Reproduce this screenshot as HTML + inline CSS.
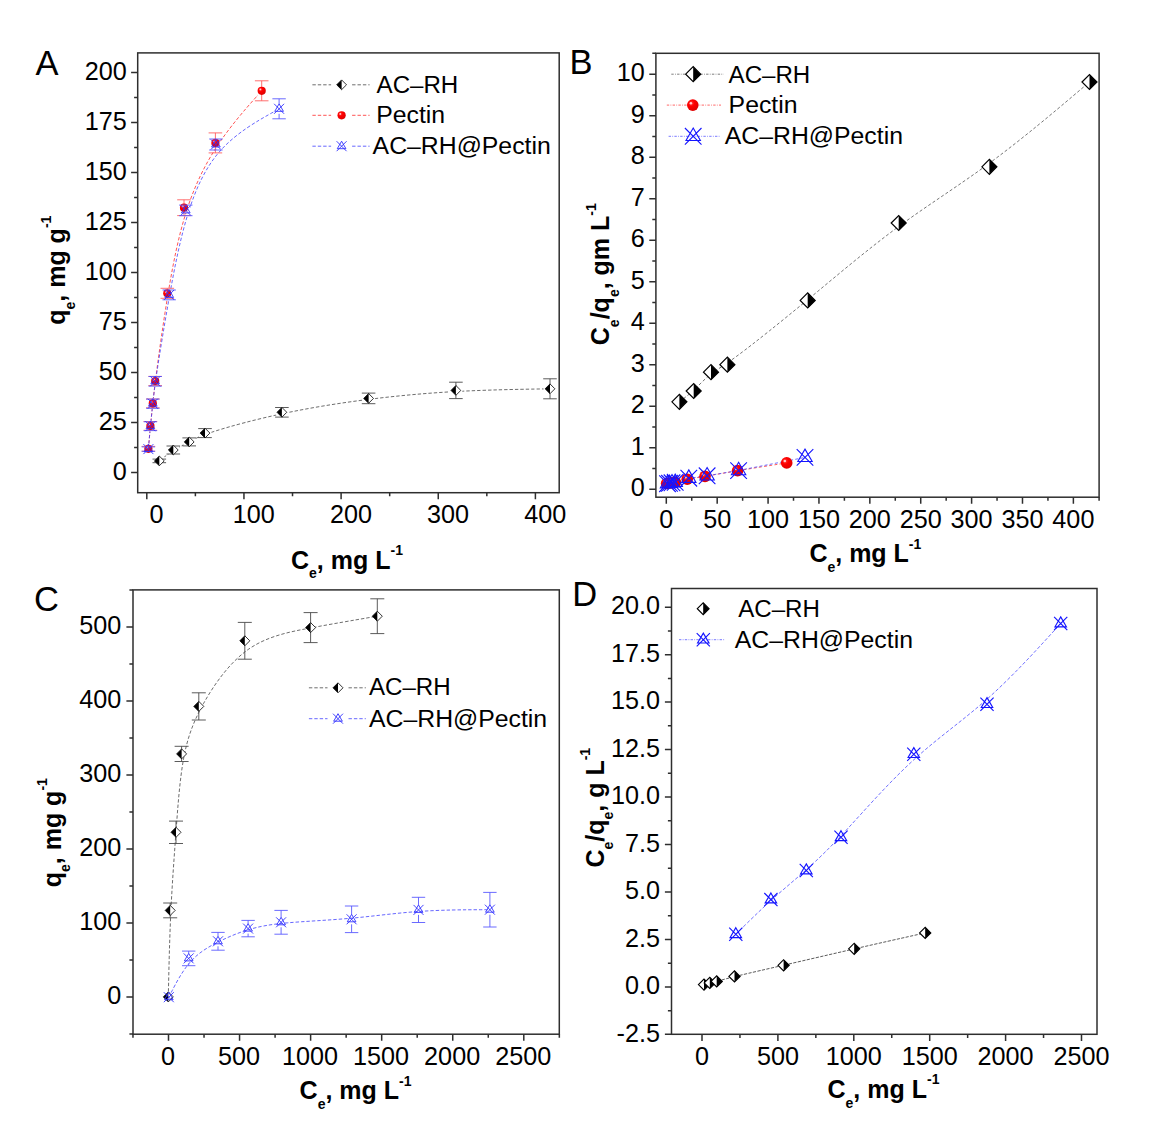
<!DOCTYPE html>
<html><head><meta charset="utf-8"><title>Adsorption isotherms</title>
<style>
html,body{margin:0;padding:0;background:#fff;}
svg{display:block;font-family:"Liberation Sans",sans-serif;}
text{fill:#000;}
</style></head>
<body>
<svg width="1152" height="1136" viewBox="0 0 1152 1136">
<defs><radialGradient id="ballg" cx="0.36" cy="0.34" r="0.75"><stop offset="0" stop-color="#ff4848"/><stop offset="0.35" stop-color="#ff0000"/><stop offset="1" stop-color="#d80000"/></radialGradient>
<mask id="m1" maskUnits="userSpaceOnUse" x="0" y="0" width="1152" height="1136"><rect width="1152" height="1136" fill="#fff"/><circle cx="159.3" cy="460.9" r="6.5" fill="#000"/><circle cx="173.3" cy="450" r="6.5" fill="#000"/><circle cx="189.2" cy="441.9" r="6.5" fill="#000"/><circle cx="205" cy="433.1" r="6.5" fill="#000"/><circle cx="281.9" cy="412.3" r="6.5" fill="#000"/><circle cx="368.6" cy="398.4" r="6.5" fill="#000"/><circle cx="455.9" cy="390.4" r="6.5" fill="#000"/><circle cx="550" cy="388.8" r="6.5" fill="#000"/></mask>
<mask id="m2" maskUnits="userSpaceOnUse" x="0" y="0" width="1152" height="1136"><rect width="1152" height="1136" fill="#fff"/><circle cx="148.4" cy="448.8" r="5.5" fill="#000"/><circle cx="150.4" cy="425.9" r="5.5" fill="#000"/><circle cx="152.8" cy="403.4" r="5.5" fill="#000"/><circle cx="155.2" cy="381" r="5.5" fill="#000"/><circle cx="167.3" cy="293.3" r="5.5" fill="#000"/><circle cx="184" cy="207.7" r="5.5" fill="#000"/><circle cx="215.4" cy="142.9" r="5.5" fill="#000"/><circle cx="261.7" cy="90.8" r="5.5" fill="#000"/></mask>
<mask id="m3" maskUnits="userSpaceOnUse" x="0" y="0" width="1152" height="1136"><rect width="1152" height="1136" fill="#fff"/><circle cx="148.4" cy="449.1" r="5.5" fill="#000"/><circle cx="150.4" cy="426.2" r="5.5" fill="#000"/><circle cx="152.8" cy="403.7" r="5.5" fill="#000"/><circle cx="155.2" cy="381.3" r="5.5" fill="#000"/><circle cx="169.2" cy="294.9" r="5.5" fill="#000"/><circle cx="185.8" cy="210.4" r="5.5" fill="#000"/><circle cx="215.9" cy="144.5" r="5.5" fill="#000"/><circle cx="279.1" cy="108.8" r="5.5" fill="#000"/></mask></defs>
<rect width="1152" height="1136" fill="#fff"/>
<rect x="137.7" y="52.9" width="421.5" height="439.8" fill="none" stroke="#2e2e2e" stroke-width="1.5"/>
<path d="M131.1 472.6H137.7M131.1 422.6H137.7M131.1 372.6H137.7M131.1 322.6H137.7M131.1 272.6H137.7M131.1 222.6H137.7M131.1 172.6H137.7M131.1 122.6H137.7M131.1 72.6H137.7M134.1 447.6H137.7M134.1 397.6H137.7M134.1 347.6H137.7M134.1 297.6H137.7M134.1 247.6H137.7M134.1 197.6H137.7M134.1 147.6H137.7M134.1 97.6H137.7" stroke="#2e2e2e" stroke-width="1.5" fill="none"/>
<path d="M146.8 492.7V499.3M243.95 492.7V499.3M341.1 492.7V499.3M438.25 492.7V499.3M535.4 492.7V499.3M195.38 492.7V496.3M292.52 492.7V496.3M389.68 492.7V496.3M486.83 492.7V496.3" stroke="#2e2e2e" stroke-width="1.5" fill="none"/>
<text x="126.7" y="479.79" font-size="25.2" text-anchor="end" font-weight="normal">0</text>
<text x="126.7" y="429.79" font-size="25.2" text-anchor="end" font-weight="normal">25</text>
<text x="126.7" y="379.79" font-size="25.2" text-anchor="end" font-weight="normal">50</text>
<text x="126.7" y="329.79" font-size="25.2" text-anchor="end" font-weight="normal">75</text>
<text x="126.7" y="279.79" font-size="25.2" text-anchor="end" font-weight="normal">100</text>
<text x="126.7" y="229.79" font-size="25.2" text-anchor="end" font-weight="normal">125</text>
<text x="126.7" y="179.79" font-size="25.2" text-anchor="end" font-weight="normal">150</text>
<text x="126.7" y="129.79" font-size="25.2" text-anchor="end" font-weight="normal">175</text>
<text x="126.7" y="79.79" font-size="25.2" text-anchor="end" font-weight="normal">200</text>
<text x="156.6" y="523.3" font-size="25.2" text-anchor="middle" font-weight="normal">0</text>
<text x="253.75" y="523.3" font-size="25.2" text-anchor="middle" font-weight="normal">100</text>
<text x="350.9" y="523.3" font-size="25.2" text-anchor="middle" font-weight="normal">200</text>
<text x="448.05" y="523.3" font-size="25.2" text-anchor="middle" font-weight="normal">300</text>
<text x="545.2" y="523.3" font-size="25.2" text-anchor="middle" font-weight="normal">400</text>
<text x="35.5" y="75.2" font-size="34.5" text-anchor="start" font-weight="normal">A</text>
<text x="291" y="568.6" font-weight="bold" xml:space="preserve"><tspan dy="0" font-size="25">C</tspan><tspan dy="9.6" font-size="14">e</tspan><tspan dy="-9.6" font-size="25">, mg L</tspan><tspan dy="-13.6" font-size="14">-1</tspan></text>
<text transform="translate(64.9 324.8) rotate(-90)" font-weight="bold" xml:space="preserve"><tspan dy="0" font-size="25">q</tspan><tspan dy="9.6" font-size="14">e</tspan><tspan dy="-9.6" font-size="25">, mg g</tspan><tspan dy="-13.6" font-size="14">-1</tspan></text>
<path d="M159.3 460.9C159.3 460.9 159.3 460.9 161.63 459.08C163.97 457.27 168.63 453.63 173.62 450.47C178.6 447.3 183.9 444.6 189.18 441.78C194.47 438.97 199.73 436.03 215.18 431.1C230.63 426.17 256.27 419.23 283.53 413.45C310.8 407.67 339.7 403.03 368.7 399.38C397.7 395.73 426.8 393.07 457.03 391.47C487.27 389.87 518.63 389.33 534.32 389.07C550 388.8 550 388.8 550 388.8" fill="none" stroke="#484848" stroke-width="0.8" stroke-dasharray="3.4 2" mask="url(#m1)"/>
<path d="M148.4 448.8C148.4 448.8 148.4 448.8 148.73 444.98C149.07 441.17 149.73 433.53 150.47 425.97C151.2 418.4 152 410.9 152.8 403.42C153.6 395.93 154.4 388.47 156.82 370.12C159.23 351.77 163.27 322.53 168.07 293.65C172.87 264.77 178.43 236.23 186.45 211.17C194.47 186.1 204.93 164.5 217.88 145.02C230.83 125.53 246.27 108.17 253.98 99.48C261.7 90.8 261.7 90.8 261.7 90.8" fill="none" stroke="#ff2a2a" stroke-width="0.8" stroke-dasharray="3.4 2" mask="url(#m2)"/>
<path d="M148.4 449.1C148.4 449.1 148.4 449.1 148.73 445.28C149.07 441.47 149.73 433.83 150.47 426.27C151.2 418.7 152 411.2 152.8 403.72C153.6 396.23 154.4 388.77 157.13 370.63C159.87 352.5 164.53 323.7 169.63 295.22C174.73 266.73 180.27 238.57 188.05 213.5C195.83 188.43 205.87 166.47 221.42 149.53C236.97 132.6 258.03 120.7 268.57 114.75C279.1 108.8 279.1 108.8 279.1 108.8" fill="none" stroke="#4040ff" stroke-width="0.8" stroke-dasharray="3.4 2" mask="url(#m3)"/>
<path d="M159.3 459.1L159.3 462.7M152.5 459.1L166.1 459.1M152.5 462.7L166.1 462.7" fill="none" stroke="#484848" stroke-width="0.9"/>
<path d="M173.3 446L173.3 454M166.5 446L180.1 446M166.5 454L180.1 454" fill="none" stroke="#484848" stroke-width="0.9"/>
<path d="M189.2 437.9L189.2 445.9M182.4 437.9L196 437.9M182.4 445.9L196 445.9" fill="none" stroke="#484848" stroke-width="0.9"/>
<path d="M205 428.6L205 437.6M198.2 428.6L211.8 428.6M198.2 437.6L211.8 437.6" fill="none" stroke="#484848" stroke-width="0.9"/>
<path d="M281.9 407.5L281.9 417.1M275.1 407.5L288.7 407.5M275.1 417.1L288.7 417.1" fill="none" stroke="#484848" stroke-width="0.9"/>
<path d="M368.6 393.1L368.6 403.7M361.8 393.1L375.4 393.1M361.8 403.7L375.4 403.7" fill="none" stroke="#484848" stroke-width="0.9"/>
<path d="M455.9 382.2L455.9 398.6M449.1 382.2L462.7 382.2M449.1 398.6L462.7 398.6" fill="none" stroke="#484848" stroke-width="0.9"/>
<path d="M550 378.8L550 398.8M543.2 378.8L556.8 378.8M543.2 398.8L556.8 398.8" fill="none" stroke="#484848" stroke-width="0.9"/>
<path d="M154.4 460.9L159.3 456L164.2 460.9L159.3 465.8Z" fill="#fff" stroke="#000" stroke-width="0.8" stroke-linejoin="miter"/><path d="M154.4 460.9L159.3 456L159.3 465.8Z" fill="#000"/>
<path d="M168.4 450L173.3 445.1L178.2 450L173.3 454.9Z" fill="#fff" stroke="#000" stroke-width="0.8" stroke-linejoin="miter"/><path d="M168.4 450L173.3 445.1L173.3 454.9Z" fill="#000"/>
<path d="M184.3 441.9L189.2 437L194.1 441.9L189.2 446.8Z" fill="#fff" stroke="#000" stroke-width="0.8" stroke-linejoin="miter"/><path d="M184.3 441.9L189.2 437L189.2 446.8Z" fill="#000"/>
<path d="M200.1 433.1L205 428.2L209.9 433.1L205 438Z" fill="#fff" stroke="#000" stroke-width="0.8" stroke-linejoin="miter"/><path d="M200.1 433.1L205 428.2L205 438Z" fill="#000"/>
<path d="M277 412.3L281.9 407.4L286.8 412.3L281.9 417.2Z" fill="#fff" stroke="#000" stroke-width="0.8" stroke-linejoin="miter"/><path d="M277 412.3L281.9 407.4L281.9 417.2Z" fill="#000"/>
<path d="M363.7 398.4L368.6 393.5L373.5 398.4L368.6 403.3Z" fill="#fff" stroke="#000" stroke-width="0.8" stroke-linejoin="miter"/><path d="M363.7 398.4L368.6 393.5L368.6 403.3Z" fill="#000"/>
<path d="M451 390.4L455.9 385.5L460.8 390.4L455.9 395.3Z" fill="#fff" stroke="#000" stroke-width="0.8" stroke-linejoin="miter"/><path d="M451 390.4L455.9 385.5L455.9 395.3Z" fill="#000"/>
<path d="M545.1 388.8L550 383.9L554.9 388.8L550 393.7Z" fill="#fff" stroke="#000" stroke-width="0.8" stroke-linejoin="miter"/><path d="M545.1 388.8L550 383.9L550 393.7Z" fill="#000"/>
<path d="M148.4 446.4L148.4 451.2M141.6 446.4L155.2 446.4M141.6 451.2L155.2 451.2" fill="none" stroke="#ff6060" stroke-width="0.9"/>
<path d="M150.4 421.5L150.4 430.3M143.6 421.5L157.2 421.5M143.6 430.3L157.2 430.3" fill="none" stroke="#ff6060" stroke-width="0.9"/>
<path d="M152.8 399L152.8 407.8M146 399L159.6 399M146 407.8L159.6 407.8" fill="none" stroke="#ff6060" stroke-width="0.9"/>
<path d="M155.2 376.4L155.2 385.6M148.4 376.4L162 376.4M148.4 385.6L162 385.6" fill="none" stroke="#ff6060" stroke-width="0.9"/>
<path d="M167.3 288.3L167.3 298.3M160.5 288.3L174.1 288.3M160.5 298.3L174.1 298.3" fill="none" stroke="#ff6060" stroke-width="0.9"/>
<path d="M184 199.8L184 215.6M177.2 199.8L190.8 199.8M177.2 215.6L190.8 215.6" fill="none" stroke="#ff6060" stroke-width="0.9"/>
<path d="M215.4 132.9L215.4 152.9M208.6 132.9L222.2 132.9M208.6 152.9L222.2 152.9" fill="none" stroke="#ff6060" stroke-width="0.9"/>
<path d="M261.7 80.8L261.7 100.8M254.9 80.8L268.5 80.8M254.9 100.8L268.5 100.8" fill="none" stroke="#ff6060" stroke-width="0.9"/>
<circle cx="148.4" cy="448.8" r="4.1" fill="url(#ballg)"/><circle cx="147.05" cy="447.45" r="0.9" fill="#fff" fill-opacity="0.75"/>
<circle cx="150.4" cy="425.9" r="4.1" fill="url(#ballg)"/><circle cx="149.05" cy="424.55" r="0.9" fill="#fff" fill-opacity="0.75"/>
<circle cx="152.8" cy="403.4" r="4.1" fill="url(#ballg)"/><circle cx="151.45" cy="402.05" r="0.9" fill="#fff" fill-opacity="0.75"/>
<circle cx="155.2" cy="381" r="4.1" fill="url(#ballg)"/><circle cx="153.85" cy="379.65" r="0.9" fill="#fff" fill-opacity="0.75"/>
<circle cx="167.3" cy="293.3" r="4.1" fill="url(#ballg)"/><circle cx="165.95" cy="291.95" r="0.9" fill="#fff" fill-opacity="0.75"/>
<circle cx="184" cy="207.7" r="4.1" fill="url(#ballg)"/><circle cx="182.65" cy="206.35" r="0.9" fill="#fff" fill-opacity="0.75"/>
<circle cx="215.4" cy="142.9" r="4.1" fill="url(#ballg)"/><circle cx="214.05" cy="141.55" r="0.9" fill="#fff" fill-opacity="0.75"/>
<circle cx="261.7" cy="90.8" r="4.1" fill="url(#ballg)"/><circle cx="260.35" cy="89.45" r="0.9" fill="#fff" fill-opacity="0.75"/>
<path d="M141.7 446.9L155.1 446.9M141.7 451.3L155.1 451.3" fill="none" stroke="#5a5aff" stroke-width="0.9"/>
<path d="M143.7 421.8L157.1 421.8M143.7 430.6L157.1 430.6" fill="none" stroke="#5a5aff" stroke-width="0.9"/>
<path d="M146.1 399.1L159.5 399.1M146.1 408.3L159.5 408.3" fill="none" stroke="#5a5aff" stroke-width="0.9"/>
<path d="M148.5 376.5L161.9 376.5M148.5 386.1L161.9 386.1" fill="none" stroke="#5a5aff" stroke-width="0.9"/>
<path d="M162.5 290L175.9 290M162.5 299.8L175.9 299.8" fill="none" stroke="#5a5aff" stroke-width="0.9"/>
<path d="M185.8 205.1L185.8 205.4M185.8 215.4L185.8 215.7M179.1 205.1L192.5 205.1M179.1 215.7L192.5 215.7" fill="none" stroke="#5a5aff" stroke-width="0.9"/>
<path d="M215.9 139L215.9 139.5M215.9 149.5L215.9 150M209.2 139L222.6 139M209.2 150L222.6 150" fill="none" stroke="#5a5aff" stroke-width="0.9"/>
<path d="M279.1 98.8L279.1 103.8M279.1 113.8L279.1 118.8M272.4 98.8L285.8 98.8M272.4 118.8L285.8 118.8" fill="none" stroke="#5a5aff" stroke-width="0.9"/>
<path d="M143.4 444.1L153.4 454.1M153.4 444.1L143.4 454.1M148.4 444.1L152.73 451.6L144.07 451.6Z" fill="none" stroke="#3030ff" stroke-width="0.9" stroke-linejoin="miter"/>
<path d="M145.4 421.2L155.4 431.2M155.4 421.2L145.4 431.2M150.4 421.2L154.73 428.7L146.07 428.7Z" fill="none" stroke="#3030ff" stroke-width="0.9" stroke-linejoin="miter"/>
<path d="M147.8 398.7L157.8 408.7M157.8 398.7L147.8 408.7M152.8 398.7L157.13 406.2L148.47 406.2Z" fill="none" stroke="#3030ff" stroke-width="0.9" stroke-linejoin="miter"/>
<path d="M150.2 376.3L160.2 386.3M160.2 376.3L150.2 386.3M155.2 376.3L159.53 383.8L150.87 383.8Z" fill="none" stroke="#3030ff" stroke-width="0.9" stroke-linejoin="miter"/>
<path d="M164.2 289.9L174.2 299.9M174.2 289.9L164.2 299.9M169.2 289.9L173.53 297.4L164.87 297.4Z" fill="none" stroke="#3030ff" stroke-width="0.9" stroke-linejoin="miter"/>
<path d="M180.8 205.4L190.8 215.4M190.8 205.4L180.8 215.4M185.8 205.4L190.13 212.9L181.47 212.9Z" fill="none" stroke="#3030ff" stroke-width="0.9" stroke-linejoin="miter"/>
<path d="M210.9 139.5L220.9 149.5M220.9 139.5L210.9 149.5M215.9 139.5L220.23 147L211.57 147Z" fill="none" stroke="#3030ff" stroke-width="0.9" stroke-linejoin="miter"/>
<path d="M274.1 103.8L284.1 113.8M284.1 103.8L274.1 113.8M279.1 103.8L283.43 111.3L274.77 111.3Z" fill="none" stroke="#3030ff" stroke-width="0.9" stroke-linejoin="miter"/>
<path d="M312.4 84.8H331.1M352.1 84.8H369.6" stroke="#484848" stroke-width="0.8" stroke-dasharray="3.4 2" fill="none"/>
<path d="M312.4 115.3H331.1M352.1 115.3H369.6" stroke="#ff2a2a" stroke-width="0.8" stroke-dasharray="3.4 2" fill="none"/>
<path d="M312.4 146.2H331.1M352.1 146.2H369.6" stroke="#4040ff" stroke-width="0.8" stroke-dasharray="3.4 2" fill="none"/>
<path d="M336.7 84.8L341.6 79.9L346.5 84.8L341.6 89.7Z" fill="#fff" stroke="#000" stroke-width="0.8" stroke-linejoin="miter"/><path d="M336.7 84.8L341.6 79.9L341.6 89.7Z" fill="#000"/>
<circle cx="341.6" cy="115.3" r="4.1" fill="url(#ballg)"/><circle cx="340.25" cy="113.95" r="0.9" fill="#fff" fill-opacity="0.75"/>
<path d="M336.6 141.2L346.6 151.2M346.6 141.2L336.6 151.2M341.6 141.2L345.93 148.7L337.27 148.7Z" fill="none" stroke="#3030ff" stroke-width="0.9" stroke-linejoin="miter"/>
<text x="376.6" y="93.4" font-size="24.1" text-anchor="start" font-weight="normal">AC–RH</text>
<text x="376.2" y="123.2" font-size="24.8" text-anchor="start" font-weight="normal">Pectin</text>
<text x="372.6" y="154.1" font-size="24.8" text-anchor="start" font-weight="normal">AC–RH@Pectin</text>
<rect x="655.9" y="53.3" width="443.2" height="443.9" fill="none" stroke="#2e2e2e" stroke-width="1.5"/>
<path d="M649.3 489.3H655.9M649.3 447.8H655.9M649.3 406.3H655.9M649.3 364.8H655.9M649.3 323.3H655.9M649.3 281.8H655.9M649.3 240.3H655.9M649.3 198.8H655.9M649.3 157.3H655.9M649.3 115.8H655.9M649.3 74.3H655.9M652.3 468.55H655.9M652.3 427.05H655.9M652.3 385.55H655.9M652.3 344.05H655.9M652.3 302.55H655.9M652.3 261.05H655.9M652.3 219.55H655.9M652.3 178.05H655.9M652.3 136.55H655.9M652.3 95.05H655.9M652.3 53.3H655.9" stroke="#2e2e2e" stroke-width="1.5" fill="none"/>
<path d="M666.3 497.2V503.8M717.18 497.2V503.8M768.07 497.2V503.8M818.95 497.2V503.8M869.84 497.2V503.8M920.72 497.2V503.8M971.61 497.2V503.8M1022.49 497.2V503.8M1073.38 497.2V503.8M691.74 497.2V500.8M742.63 497.2V500.8M793.51 497.2V500.8M844.4 497.2V500.8M895.28 497.2V500.8M946.17 497.2V500.8M997.05 497.2V500.8M1047.94 497.2V500.8M1099.1 497.2V500.8" stroke="#2e2e2e" stroke-width="1.5" fill="none"/>
<text x="644.8" y="496.49" font-size="25.2" text-anchor="end" font-weight="normal">0</text>
<text x="644.8" y="454.99" font-size="25.2" text-anchor="end" font-weight="normal">1</text>
<text x="644.8" y="413.49" font-size="25.2" text-anchor="end" font-weight="normal">2</text>
<text x="644.8" y="371.99" font-size="25.2" text-anchor="end" font-weight="normal">3</text>
<text x="644.8" y="330.49" font-size="25.2" text-anchor="end" font-weight="normal">4</text>
<text x="644.8" y="288.99" font-size="25.2" text-anchor="end" font-weight="normal">5</text>
<text x="644.8" y="247.49" font-size="25.2" text-anchor="end" font-weight="normal">6</text>
<text x="644.8" y="205.99" font-size="25.2" text-anchor="end" font-weight="normal">7</text>
<text x="644.8" y="164.49" font-size="25.2" text-anchor="end" font-weight="normal">8</text>
<text x="644.8" y="122.99" font-size="25.2" text-anchor="end" font-weight="normal">9</text>
<text x="644.8" y="81.49" font-size="25.2" text-anchor="end" font-weight="normal">10</text>
<text x="666.3" y="527.6" font-size="25.2" text-anchor="middle" font-weight="normal">0</text>
<text x="717.18" y="527.6" font-size="25.2" text-anchor="middle" font-weight="normal">50</text>
<text x="768.07" y="527.6" font-size="25.2" text-anchor="middle" font-weight="normal">100</text>
<text x="818.95" y="527.6" font-size="25.2" text-anchor="middle" font-weight="normal">150</text>
<text x="869.84" y="527.6" font-size="25.2" text-anchor="middle" font-weight="normal">200</text>
<text x="920.72" y="527.6" font-size="25.2" text-anchor="middle" font-weight="normal">250</text>
<text x="971.61" y="527.6" font-size="25.2" text-anchor="middle" font-weight="normal">300</text>
<text x="1022.49" y="527.6" font-size="25.2" text-anchor="middle" font-weight="normal">350</text>
<text x="1073.38" y="527.6" font-size="25.2" text-anchor="middle" font-weight="normal">400</text>
<text x="569.4" y="73.6" font-size="34.5" text-anchor="start" font-weight="normal">B</text>
<text x="809.4" y="562.2" font-weight="bold" xml:space="preserve"><tspan dy="0" font-size="25">C</tspan><tspan dy="9.6" font-size="14">e</tspan><tspan dy="-9.6" font-size="25">, mg L</tspan><tspan dy="-13.6" font-size="14">-1</tspan></text>
<text transform="translate(609.3 345.2) rotate(-90)" font-weight="bold" xml:space="preserve"><tspan dy="0" font-size="25">C</tspan><tspan dy="9.6" font-size="14">e</tspan><tspan dy="-9.6" font-size="25">/q</tspan><tspan dy="9.6" font-size="14">e</tspan><tspan dy="-9.6" font-size="25">, gm L</tspan><tspan dy="-13.6" font-size="14">-1</tspan></text>
<path d="M679.4 401.8C679.4 401.8 679.4 401.8 681.78 400C684.17 398.2 688.93 394.6 694.2 389.67C699.47 384.73 705.23 378.47 710.85 374.08C716.47 369.7 721.93 367.2 738.05 355.23C754.17 343.27 780.93 321.83 809.48 298.22C838.03 274.6 868.37 248.8 898.65 226.53C928.93 204.27 959.17 185.53 990.97 162.03C1022.77 138.53 1056.13 110.27 1072.82 96.13C1089.5 82 1089.5 82 1089.5 82" fill="none" stroke="#484848" stroke-width="0.75" stroke-dasharray="3 2.2"/>
<path d="M666.6 483.5C666.6 483.5 666.6 483.5 667 483.45C667.4 483.4 668.2 483.3 669.1 483.18C670 483.07 671 482.93 672.07 482.78C673.13 482.63 674.27 482.47 676.8 481.87C679.33 481.27 683.27 480.23 688.2 479.25C693.13 478.27 699.07 477.33 707.47 475.9C715.87 474.47 726.73 472.53 740.35 470.28C753.97 468.03 770.33 465.47 778.52 464.18C786.7 462.9 786.7 462.9 786.7 462.9" fill="none" stroke="#ff2a2a" stroke-width="0.75" stroke-dasharray="3 2.2"/>
<path d="M667.5 483.7C667.5 483.7 667.5 483.7 667.83 483.63C668.17 483.57 668.83 483.43 669.58 483.28C670.33 483.13 671.17 482.97 672.12 482.8C673.07 482.63 674.13 482.47 676.93 481.7C679.73 480.93 684.27 479.57 689.58 478.48C694.9 477.4 701 476.6 709.3 475.33C717.6 474.07 728.1 472.33 744.42 469.27C760.73 466.2 782.87 461.8 793.93 459.6C805 457.4 805 457.4 805 457.4" fill="none" stroke="#4040ff" stroke-width="0.75" stroke-dasharray="3 2.2"/>
<path d="M671.9 401.8L679.4 394.3L686.9 401.8L679.4 409.3Z" fill="#fff" stroke="#000" stroke-width="1.2" stroke-linejoin="miter"/><path d="M686.9 401.8L679.4 394.3L679.4 409.3Z" fill="#000"/>
<path d="M686.2 391L693.7 383.5L701.2 391L693.7 398.5Z" fill="#fff" stroke="#000" stroke-width="1.2" stroke-linejoin="miter"/><path d="M701.2 391L693.7 383.5L693.7 398.5Z" fill="#000"/>
<path d="M703.5 372.2L711 364.7L718.5 372.2L711 379.7Z" fill="#fff" stroke="#000" stroke-width="1.2" stroke-linejoin="miter"/><path d="M718.5 372.2L711 364.7L711 379.7Z" fill="#000"/>
<path d="M719.9 364.7L727.4 357.2L734.9 364.7L727.4 372.2Z" fill="#fff" stroke="#000" stroke-width="1.2" stroke-linejoin="miter"/><path d="M734.9 364.7L727.4 357.2L727.4 372.2Z" fill="#000"/>
<path d="M800.2 300.4L807.7 292.9L815.2 300.4L807.7 307.9Z" fill="#fff" stroke="#000" stroke-width="1.2" stroke-linejoin="miter"/><path d="M815.2 300.4L807.7 292.9L807.7 307.9Z" fill="#000"/>
<path d="M891.2 223L898.7 215.5L906.2 223L898.7 230.5Z" fill="#fff" stroke="#000" stroke-width="1.2" stroke-linejoin="miter"/><path d="M906.2 223L898.7 215.5L898.7 230.5Z" fill="#000"/>
<path d="M981.9 166.8L989.4 159.3L996.9 166.8L989.4 174.3Z" fill="#fff" stroke="#000" stroke-width="1.2" stroke-linejoin="miter"/><path d="M996.9 166.8L989.4 159.3L989.4 174.3Z" fill="#000"/>
<path d="M1082 82L1089.5 74.5L1097 82L1089.5 89.5Z" fill="#fff" stroke="#000" stroke-width="1.2" stroke-linejoin="miter"/><path d="M1097 82L1089.5 74.5L1089.5 89.5Z" fill="#000"/>
<circle cx="666.6" cy="483.5" r="5.8" fill="url(#ballg)"/><circle cx="664.69" cy="481.59" r="1.28" fill="#fff" fill-opacity="0.75"/>
<circle cx="669" cy="483.2" r="5.8" fill="url(#ballg)"/><circle cx="667.09" cy="481.29" r="1.28" fill="#fff" fill-opacity="0.75"/>
<circle cx="672" cy="482.8" r="5.8" fill="url(#ballg)"/><circle cx="670.09" cy="480.89" r="1.28" fill="#fff" fill-opacity="0.75"/>
<circle cx="675.4" cy="482.3" r="5.8" fill="url(#ballg)"/><circle cx="673.49" cy="480.39" r="1.28" fill="#fff" fill-opacity="0.75"/>
<circle cx="687.2" cy="479.2" r="5.8" fill="url(#ballg)"/><circle cx="685.29" cy="477.29" r="1.28" fill="#fff" fill-opacity="0.75"/>
<circle cx="705" cy="476.4" r="5.8" fill="url(#ballg)"/><circle cx="703.09" cy="474.49" r="1.28" fill="#fff" fill-opacity="0.75"/>
<circle cx="737.6" cy="470.6" r="5.8" fill="url(#ballg)"/><circle cx="735.69" cy="468.69" r="1.28" fill="#fff" fill-opacity="0.75"/>
<circle cx="786.7" cy="462.9" r="5.8" fill="url(#ballg)"/><circle cx="784.79" cy="460.99" r="1.28" fill="#fff" fill-opacity="0.75"/>
<path d="M659.2 475.4L675.8 492M675.8 475.4L659.2 492M667.5 475.4L674.69 487.85L660.31 487.85Z" fill="none" stroke="#1414ff" stroke-width="1.1" stroke-linejoin="miter"/>
<path d="M661.2 475L677.8 491.6M677.8 475L661.2 491.6M669.5 475L676.69 487.45L662.31 487.45Z" fill="none" stroke="#1414ff" stroke-width="1.1" stroke-linejoin="miter"/>
<path d="M663.7 474.5L680.3 491.1M680.3 474.5L663.7 491.1M672 474.5L679.19 486.95L664.81 486.95Z" fill="none" stroke="#1414ff" stroke-width="1.1" stroke-linejoin="miter"/>
<path d="M666.9 474L683.5 490.6M683.5 474L666.9 490.6M675.2 474L682.39 486.45L668.01 486.45Z" fill="none" stroke="#1414ff" stroke-width="1.1" stroke-linejoin="miter"/>
<path d="M680.5 469.9L697.1 486.5M697.1 469.9L680.5 486.5M688.8 469.9L695.99 482.35L681.61 482.35Z" fill="none" stroke="#1414ff" stroke-width="1.1" stroke-linejoin="miter"/>
<path d="M698.8 467.5L715.4 484.1M715.4 467.5L698.8 484.1M707.1 467.5L714.29 479.95L699.91 479.95Z" fill="none" stroke="#1414ff" stroke-width="1.1" stroke-linejoin="miter"/>
<path d="M730.3 462.3L746.9 478.9M746.9 462.3L730.3 478.9M738.6 462.3L745.79 474.75L731.41 474.75Z" fill="none" stroke="#1414ff" stroke-width="1.1" stroke-linejoin="miter"/>
<path d="M796.7 449.1L813.3 465.7M813.3 449.1L796.7 465.7M805 449.1L812.19 461.55L797.81 461.55Z" fill="none" stroke="#1414ff" stroke-width="1.1" stroke-linejoin="miter"/>
<path d="M671.3 74.2H723.7" stroke="#484848" stroke-width="0.7" stroke-dasharray="2.4 1.3 0.8 1.3" fill="none"/>
<path d="M666.8 105.1H721" stroke="#ff2a2a" stroke-width="0.7" stroke-dasharray="2.4 1.3 0.8 1.3" fill="none"/>
<path d="M668.6 136.3H719.8" stroke="#4040ff" stroke-width="0.7" stroke-dasharray="2.4 1.3 0.8 1.3" fill="none"/>
<path d="M685.7 74.2L693.2 66.7L700.7 74.2L693.2 81.7Z" fill="#fff" stroke="#000" stroke-width="1.2" stroke-linejoin="miter"/><path d="M700.7 74.2L693.2 66.7L693.2 81.7Z" fill="#000"/>
<circle cx="692.8" cy="105.1" r="5.8" fill="url(#ballg)"/><circle cx="690.89" cy="103.19" r="1.28" fill="#fff" fill-opacity="0.75"/>
<path d="M684.9 128L701.5 144.6M701.5 128L684.9 144.6M693.2 128L700.39 140.45L686.01 140.45Z" fill="none" stroke="#1414ff" stroke-width="1.1" stroke-linejoin="miter"/>
<text x="728.6" y="83.2" font-size="24.1" text-anchor="start" font-weight="normal">AC–RH</text>
<text x="728.6" y="113.2" font-size="24.8" text-anchor="start" font-weight="normal">Pectin</text>
<text x="724.8" y="144.4" font-size="24.8" text-anchor="start" font-weight="normal">AC–RH@Pectin</text>
<rect x="133" y="589.9" width="426.3" height="444.3" fill="none" stroke="#2e2e2e" stroke-width="1.5"/>
<path d="M126.4 997.1H133M126.4 923.06H133M126.4 849.02H133M126.4 774.98H133M126.4 700.94H133M126.4 626.9H133M129.4 1034.12H133M129.4 960.08H133M129.4 886.04H133M129.4 812H133M129.4 737.96H133M129.4 663.92H133M129.4 589.88H133" stroke="#2e2e2e" stroke-width="1.5" fill="none"/>
<path d="M168.5 1034.2V1040.8M239.56 1034.2V1040.8M310.62 1034.2V1040.8M381.68 1034.2V1040.8M452.74 1034.2V1040.8M523.8 1034.2V1040.8M132.97 1034.2V1037.8M204.03 1034.2V1037.8M275.09 1034.2V1037.8M346.15 1034.2V1037.8M417.21 1034.2V1037.8M488.27 1034.2V1037.8M559.33 1034.2V1037.8" stroke="#2e2e2e" stroke-width="1.5" fill="none"/>
<text x="121.3" y="1004.29" font-size="25.2" text-anchor="end" font-weight="normal">0</text>
<text x="121.3" y="930.25" font-size="25.2" text-anchor="end" font-weight="normal">100</text>
<text x="121.3" y="856.21" font-size="25.2" text-anchor="end" font-weight="normal">200</text>
<text x="121.3" y="782.17" font-size="25.2" text-anchor="end" font-weight="normal">300</text>
<text x="121.3" y="708.13" font-size="25.2" text-anchor="end" font-weight="normal">400</text>
<text x="121.3" y="634.09" font-size="25.2" text-anchor="end" font-weight="normal">500</text>
<text x="167.9" y="1064.6" font-size="25.2" text-anchor="middle" font-weight="normal">0</text>
<text x="238.96" y="1064.6" font-size="25.2" text-anchor="middle" font-weight="normal">500</text>
<text x="310.02" y="1064.6" font-size="25.2" text-anchor="middle" font-weight="normal">1000</text>
<text x="381.08" y="1064.6" font-size="25.2" text-anchor="middle" font-weight="normal">1500</text>
<text x="452.14" y="1064.6" font-size="25.2" text-anchor="middle" font-weight="normal">2000</text>
<text x="523.2" y="1064.6" font-size="25.2" text-anchor="middle" font-weight="normal">2500</text>
<text x="34" y="611" font-size="34.5" text-anchor="start" font-weight="normal">C</text>
<text x="299.6" y="1099.4" font-weight="bold" xml:space="preserve"><tspan dy="0" font-size="25">C</tspan><tspan dy="9.6" font-size="14">e</tspan><tspan dy="-9.6" font-size="25">, mg L</tspan><tspan dy="-13.6" font-size="14">-1</tspan></text>
<text transform="translate(60.8 887.3) rotate(-90)" font-weight="bold" xml:space="preserve"><tspan dy="0" font-size="25">q</tspan><tspan dy="9.6" font-size="14">e</tspan><tspan dy="-9.6" font-size="25">, mg g</tspan><tspan dy="-13.6" font-size="14">-1</tspan></text>
<path d="M168.3 996.9C168.3 996.9 168.3 996.9 168.62 982.48C168.93 968.07 169.57 939.23 170.85 911.8C172.13 884.37 174.07 858.33 175.97 832.25C177.87 806.17 179.73 780.03 183.53 759.05C187.33 738.07 193.07 722.23 203.6 703.38C214.13 684.53 229.47 662.67 248.1 649.53C266.73 636.4 288.67 632 310.75 627.9C332.83 623.8 355.07 620 366.18 618.1C377.3 616.2 377.3 616.2 377.3 616.2" fill="none" stroke="#484848" stroke-width="0.8" stroke-dasharray="3.4 2"/>
<path d="M168.8 997.2C168.8 997.2 168.8 997.2 172.12 990.73C175.43 984.27 182.07 971.33 190.27 962.02C198.47 952.7 208.23 947 218.13 942.03C228.03 937.07 238.07 932.83 248.58 929.67C259.1 926.5 270.1 924.4 287.35 922.85C304.6 921.3 328.1 920.3 351 918.23C373.9 916.17 396.2 913.03 419.25 911.43C442.3 909.83 466.1 909.77 478 909.73C489.9 909.7 489.9 909.7 489.9 909.7" fill="none" stroke="#4040ff" stroke-width="0.8" stroke-dasharray="3.4 2"/>

<path d="M170.2 903L170.2 917.8M163.2 903L177.2 903M163.2 917.8L177.2 917.8" fill="none" stroke="#484848" stroke-width="0.9"/>
<path d="M176 821.1L176 843.5M169 821.1L183 821.1M169 843.5L183 843.5" fill="none" stroke="#484848" stroke-width="0.9"/>
<path d="M181.6 746.3L181.6 761.5M174.6 746.3L188.6 746.3M174.6 761.5L188.6 761.5" fill="none" stroke="#484848" stroke-width="0.9"/>
<path d="M198.8 692.8L198.8 720M191.8 692.8L205.8 692.8M191.8 720L205.8 720" fill="none" stroke="#484848" stroke-width="0.9"/>
<path d="M244.8 622.4L244.8 659.2M237.8 622.4L251.8 622.4M237.8 659.2L251.8 659.2" fill="none" stroke="#484848" stroke-width="0.9"/>
<path d="M310.6 612.6L310.6 642.6M303.6 612.6L317.6 612.6M303.6 642.6L317.6 642.6" fill="none" stroke="#484848" stroke-width="0.9"/>
<path d="M377.3 598.8L377.3 633.6M370.3 598.8L384.3 598.8M370.3 633.6L384.3 633.6" fill="none" stroke="#484848" stroke-width="0.9"/>

<path d="M188.7 951.1L188.7 953.4M188.7 963.4L188.7 965.7M182 951.1L195.4 951.1M182 965.7L195.4 965.7" fill="none" stroke="#5a5aff" stroke-width="0.9"/>
<path d="M218 932.4L218 936.3M218 946.3L218 950.2M211.3 932.4L224.7 932.4M211.3 950.2L224.7 950.2" fill="none" stroke="#5a5aff" stroke-width="0.9"/>
<path d="M248.1 920.4L248.1 923.6M248.1 933.6L248.1 936.8M241.4 920.4L254.8 920.4M241.4 936.8L254.8 936.8" fill="none" stroke="#5a5aff" stroke-width="0.9"/>
<path d="M281.1 910.4L281.1 917.3M281.1 927.3L281.1 934.2M274.4 910.4L287.8 910.4M274.4 934.2L287.8 934.2" fill="none" stroke="#5a5aff" stroke-width="0.9"/>
<path d="M351.6 906L351.6 914.3M351.6 924.3L351.6 932.6M344.9 906L358.3 906M344.9 932.6L358.3 932.6" fill="none" stroke="#5a5aff" stroke-width="0.9"/>
<path d="M418.5 897.3L418.5 904.9M418.5 914.9L418.5 922.5M411.8 897.3L425.2 897.3M411.8 922.5L425.2 922.5" fill="none" stroke="#5a5aff" stroke-width="0.9"/>
<path d="M489.9 892.4L489.9 904.7M489.9 914.7L489.9 927M483.2 892.4L496.6 892.4M483.2 927L496.6 927" fill="none" stroke="#5a5aff" stroke-width="0.9"/>
<path d="M163.3 996.9L168.3 991.9L173.3 996.9L168.3 1001.9Z" fill="#fff" stroke="#000" stroke-width="0.8" stroke-linejoin="miter"/><path d="M163.3 996.9L168.3 991.9L168.3 1001.9Z" fill="#000"/>
<path d="M165.2 910.4L170.2 905.4L175.2 910.4L170.2 915.4Z" fill="#fff" stroke="#000" stroke-width="0.8" stroke-linejoin="miter"/><path d="M165.2 910.4L170.2 905.4L170.2 915.4Z" fill="#000"/>
<path d="M171 832.3L176 827.3L181 832.3L176 837.3Z" fill="#fff" stroke="#000" stroke-width="0.8" stroke-linejoin="miter"/><path d="M171 832.3L176 827.3L176 837.3Z" fill="#000"/>
<path d="M176.6 753.9L181.6 748.9L186.6 753.9L181.6 758.9Z" fill="#fff" stroke="#000" stroke-width="0.8" stroke-linejoin="miter"/><path d="M176.6 753.9L181.6 748.9L181.6 758.9Z" fill="#000"/>
<path d="M193.8 706.4L198.8 701.4L203.8 706.4L198.8 711.4Z" fill="#fff" stroke="#000" stroke-width="0.8" stroke-linejoin="miter"/><path d="M193.8 706.4L198.8 701.4L198.8 711.4Z" fill="#000"/>
<path d="M239.8 640.8L244.8 635.8L249.8 640.8L244.8 645.8Z" fill="#fff" stroke="#000" stroke-width="0.8" stroke-linejoin="miter"/><path d="M239.8 640.8L244.8 635.8L244.8 645.8Z" fill="#000"/>
<path d="M305.6 627.6L310.6 622.6L315.6 627.6L310.6 632.6Z" fill="#fff" stroke="#000" stroke-width="0.8" stroke-linejoin="miter"/><path d="M305.6 627.6L310.6 622.6L310.6 632.6Z" fill="#000"/>
<path d="M372.3 616.2L377.3 611.2L382.3 616.2L377.3 621.2Z" fill="#fff" stroke="#000" stroke-width="0.8" stroke-linejoin="miter"/><path d="M372.3 616.2L377.3 611.2L377.3 621.2Z" fill="#000"/>
<path d="M163.8 992.2L173.8 1002.2M173.8 992.2L163.8 1002.2M168.8 992.2L173.13 999.7L164.47 999.7Z" fill="none" stroke="#3030ff" stroke-width="0.9" stroke-linejoin="miter"/>
<path d="M183.7 953.4L193.7 963.4M193.7 953.4L183.7 963.4M188.7 953.4L193.03 960.9L184.37 960.9Z" fill="none" stroke="#3030ff" stroke-width="0.9" stroke-linejoin="miter"/>
<path d="M213 936.3L223 946.3M223 936.3L213 946.3M218 936.3L222.33 943.8L213.67 943.8Z" fill="none" stroke="#3030ff" stroke-width="0.9" stroke-linejoin="miter"/>
<path d="M243.1 923.6L253.1 933.6M253.1 923.6L243.1 933.6M248.1 923.6L252.43 931.1L243.77 931.1Z" fill="none" stroke="#3030ff" stroke-width="0.9" stroke-linejoin="miter"/>
<path d="M276.1 917.3L286.1 927.3M286.1 917.3L276.1 927.3M281.1 917.3L285.43 924.8L276.77 924.8Z" fill="none" stroke="#3030ff" stroke-width="0.9" stroke-linejoin="miter"/>
<path d="M346.6 914.3L356.6 924.3M356.6 914.3L346.6 924.3M351.6 914.3L355.93 921.8L347.27 921.8Z" fill="none" stroke="#3030ff" stroke-width="0.9" stroke-linejoin="miter"/>
<path d="M413.5 904.9L423.5 914.9M423.5 904.9L413.5 914.9M418.5 904.9L422.83 912.4L414.17 912.4Z" fill="none" stroke="#3030ff" stroke-width="0.9" stroke-linejoin="miter"/>
<path d="M484.9 904.7L494.9 914.7M494.9 904.7L484.9 914.7M489.9 904.7L494.23 912.2L485.57 912.2Z" fill="none" stroke="#3030ff" stroke-width="0.9" stroke-linejoin="miter"/>
<path d="M308.9 687.8H327.5M348.5 687.8H365.8" stroke="#484848" stroke-width="0.8" stroke-dasharray="3.4 2" fill="none"/>
<path d="M308.9 718.7H327.5M348.5 718.7H365.8" stroke="#4040ff" stroke-width="0.8" stroke-dasharray="3.4 2" fill="none"/>
<path d="M333 687.8L338 682.8L343 687.8L338 692.8Z" fill="#fff" stroke="#000" stroke-width="0.8" stroke-linejoin="miter"/><path d="M333 687.8L338 682.8L338 692.8Z" fill="#000"/>
<path d="M333 713.7L343 723.7M343 713.7L333 723.7M338 713.7L342.33 721.2L333.67 721.2Z" fill="none" stroke="#3030ff" stroke-width="0.9" stroke-linejoin="miter"/>
<text x="369" y="695.4" font-size="24.1" text-anchor="start" font-weight="normal">AC–RH</text>
<text x="369" y="726.5" font-size="24.8" text-anchor="start" font-weight="normal">AC–RH@Pectin</text>
<rect x="671.5" y="588.5" width="425.5" height="445.8" fill="none" stroke="#2e2e2e" stroke-width="1.5"/>
<path d="M664.9 1034.36H671.5M664.9 986.9H671.5M664.9 939.44H671.5M664.9 891.98H671.5M664.9 844.51H671.5M664.9 797.05H671.5M664.9 749.59H671.5M664.9 702.12H671.5M664.9 654.66H671.5M664.9 607.2H671.5M667.9 1010.63H671.5M667.9 963.17H671.5M667.9 915.71H671.5M667.9 868.24H671.5M667.9 820.78H671.5M667.9 773.32H671.5M667.9 725.86H671.5M667.9 678.39H671.5M667.9 630.93H671.5" stroke="#2e2e2e" stroke-width="1.5" fill="none"/>
<path d="M702 1034.3V1040.9M777.9 1034.3V1040.9M853.8 1034.3V1040.9M929.7 1034.3V1040.9M1005.6 1034.3V1040.9M1081.5 1034.3V1040.9M739.95 1034.3V1037.9M815.85 1034.3V1037.9M891.75 1034.3V1037.9M967.65 1034.3V1037.9M1043.55 1034.3V1037.9" stroke="#2e2e2e" stroke-width="1.5" fill="none"/>
<text x="660" y="1041.56" font-size="25.2" text-anchor="end" font-weight="normal">-2.5</text>
<text x="660" y="994.09" font-size="25.2" text-anchor="end" font-weight="normal">0.0</text>
<text x="660" y="946.63" font-size="25.2" text-anchor="end" font-weight="normal">2.5</text>
<text x="660" y="899.17" font-size="25.2" text-anchor="end" font-weight="normal">5.0</text>
<text x="660" y="851.71" font-size="25.2" text-anchor="end" font-weight="normal">7.5</text>
<text x="660" y="804.24" font-size="25.2" text-anchor="end" font-weight="normal">10.0</text>
<text x="660" y="756.78" font-size="25.2" text-anchor="end" font-weight="normal">12.5</text>
<text x="660" y="709.32" font-size="25.2" text-anchor="end" font-weight="normal">15.0</text>
<text x="660" y="661.86" font-size="25.2" text-anchor="end" font-weight="normal">17.5</text>
<text x="660" y="614.39" font-size="25.2" text-anchor="end" font-weight="normal">20.0</text>
<text x="702" y="1064.6" font-size="25.2" text-anchor="middle" font-weight="normal">0</text>
<text x="777.9" y="1064.6" font-size="25.2" text-anchor="middle" font-weight="normal">500</text>
<text x="853.8" y="1064.6" font-size="25.2" text-anchor="middle" font-weight="normal">1000</text>
<text x="929.7" y="1064.6" font-size="25.2" text-anchor="middle" font-weight="normal">1500</text>
<text x="1005.6" y="1064.6" font-size="25.2" text-anchor="middle" font-weight="normal">2000</text>
<text x="1081.5" y="1064.6" font-size="25.2" text-anchor="middle" font-weight="normal">2500</text>
<text x="572.3" y="606" font-size="34.5" text-anchor="start" font-weight="normal">D</text>
<text x="827.5" y="1098" font-weight="bold" xml:space="preserve"><tspan dy="0" font-size="25">C</tspan><tspan dy="9.6" font-size="14">e</tspan><tspan dy="-9.6" font-size="25">, mg L</tspan><tspan dy="-13.6" font-size="14">-1</tspan></text>
<text transform="translate(603.5 867.6) rotate(-90)" font-weight="bold" xml:space="preserve"><tspan dy="0" font-size="25">C</tspan><tspan dy="9.6" font-size="14">e</tspan><tspan dy="-9.6" font-size="25">/q</tspan><tspan dy="9.6" font-size="14">e</tspan><tspan dy="-9.6" font-size="25">, g L</tspan><tspan dy="-13.6" font-size="14">-1</tspan></text>
<path d="M704 984.6C704 984.6 704 984.6 704.97 984.32C705.93 984.03 707.87 983.47 709.98 982.93C712.1 982.4 714.4 981.9 718.52 980.82C722.63 979.73 728.57 978.07 739.72 975.38C750.87 972.7 767.23 969 787.18 964.4C807.13 959.8 830.67 954.3 854.27 948.9C877.87 943.5 901.53 938.2 913.37 935.55C925.2 932.9 925.2 932.9 925.2 932.9" fill="none" stroke="#484848" stroke-width="0.9" stroke-dasharray="3.2 1.4"/>
<path d="M735.8 934.3C735.8 934.3 735.8 934.3 741.65 928.52C747.5 922.73 759.2 911.17 770.95 900.53C782.7 889.9 794.5 880.2 806.18 869.82C817.87 859.43 829.43 848.37 847.35 828.98C865.27 809.6 889.53 781.9 913.87 759.72C938.2 737.53 962.6 720.87 987.08 699.08C1011.57 677.3 1036.13 650.4 1048.42 636.95C1060.7 623.5 1060.7 623.5 1060.7 623.5" fill="none" stroke="#4040ff" stroke-width="0.75" stroke-dasharray="3.4 2"/>
<path d="M698.4 984.6L704 979L709.6 984.6L704 990.2Z" fill="#fff" stroke="#000" stroke-width="1.15" stroke-linejoin="miter"/><path d="M709.6 984.6L704 979L704 990.2Z" fill="#000"/>
<path d="M704.2 982.9L709.8 977.3L715.4 982.9L709.8 988.5Z" fill="#fff" stroke="#000" stroke-width="1.15" stroke-linejoin="miter"/><path d="M715.4 982.9L709.8 977.3L709.8 988.5Z" fill="#000"/>
<path d="M711.1 981.4L716.7 975.8L722.3 981.4L716.7 987Z" fill="#fff" stroke="#000" stroke-width="1.15" stroke-linejoin="miter"/><path d="M722.3 981.4L716.7 975.8L716.7 987Z" fill="#000"/>
<path d="M728.9 976.4L734.5 970.8L740.1 976.4L734.5 982Z" fill="#fff" stroke="#000" stroke-width="1.15" stroke-linejoin="miter"/><path d="M740.1 976.4L734.5 970.8L734.5 982Z" fill="#000"/>
<path d="M778 965.3L783.6 959.7L789.2 965.3L783.6 970.9Z" fill="#fff" stroke="#000" stroke-width="1.15" stroke-linejoin="miter"/><path d="M789.2 965.3L783.6 959.7L783.6 970.9Z" fill="#000"/>
<path d="M848.6 948.8L854.2 943.2L859.8 948.8L854.2 954.4Z" fill="#fff" stroke="#000" stroke-width="1.15" stroke-linejoin="miter"/><path d="M859.8 948.8L854.2 943.2L854.2 954.4Z" fill="#000"/>
<path d="M919.6 932.9L925.2 927.3L930.8 932.9L925.2 938.5Z" fill="#fff" stroke="#000" stroke-width="1.15" stroke-linejoin="miter"/><path d="M930.8 932.9L925.2 927.3L925.2 938.5Z" fill="#000"/>
<path d="M729.2 927.7L742.4 940.9M742.4 927.7L729.2 940.9M735.8 927.7L741.52 937.6L730.08 937.6Z" fill="none" stroke="#1414ff" stroke-width="1.15" stroke-linejoin="miter"/>
<path d="M764.3 893L777.5 906.2M777.5 893L764.3 906.2M770.9 893L776.62 902.9L765.18 902.9Z" fill="none" stroke="#1414ff" stroke-width="1.15" stroke-linejoin="miter"/>
<path d="M799.7 863.9L812.9 877.1M812.9 863.9L799.7 877.1M806.3 863.9L812.02 873.8L800.58 873.8Z" fill="none" stroke="#1414ff" stroke-width="1.15" stroke-linejoin="miter"/>
<path d="M834.4 830.7L847.6 843.9M847.6 830.7L834.4 843.9M841 830.7L846.72 840.6L835.28 840.6Z" fill="none" stroke="#1414ff" stroke-width="1.15" stroke-linejoin="miter"/>
<path d="M907.2 747.6L920.4 760.8M920.4 747.6L907.2 760.8M913.8 747.6L919.52 757.5L908.08 757.5Z" fill="none" stroke="#1414ff" stroke-width="1.15" stroke-linejoin="miter"/>
<path d="M980.4 697.6L993.6 710.8M993.6 697.6L980.4 710.8M987 697.6L992.72 707.5L981.28 707.5Z" fill="none" stroke="#1414ff" stroke-width="1.15" stroke-linejoin="miter"/>
<path d="M1054.1 616.9L1067.3 630.1M1067.3 616.9L1054.1 630.1M1060.7 616.9L1066.42 626.8L1054.98 626.8Z" fill="none" stroke="#1414ff" stroke-width="1.15" stroke-linejoin="miter"/>
<path d="M697.3 608.7L703.2 602.8L709.1 608.7L703.2 614.6Z" fill="#fff" stroke="#000" stroke-width="1.15" stroke-linejoin="miter"/><path d="M709.1 608.7L703.2 602.8L703.2 614.6Z" fill="#000"/>
<path d="M679 639.7H725.3" stroke="#4040ff" stroke-width="0.7" stroke-dasharray="2.4 1.3 0.8 1.3" fill="none"/>
<path d="M696.7 633.1L709.9 646.3M709.9 633.1L696.7 646.3M703.3 633.1L709.02 643L697.58 643Z" fill="none" stroke="#1414ff" stroke-width="1.15" stroke-linejoin="miter"/>
<text x="738.2" y="617.1" font-size="24.1" text-anchor="start" font-weight="normal">AC–RH</text>
<text x="734.8" y="647.5" font-size="24.8" text-anchor="start" font-weight="normal">AC–RH@Pectin</text>
</svg>
</body></html>
